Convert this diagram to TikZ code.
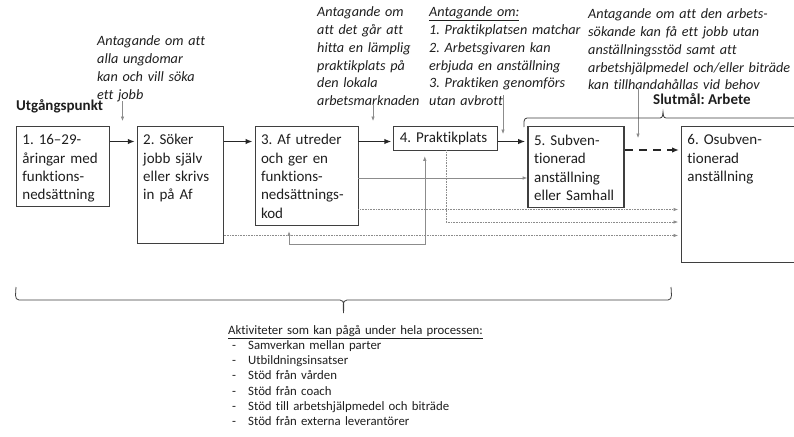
\documentclass[tikz,border=0pt]{standalone}
\usepackage{fontspec}
\setmainfont{Carlito}[Ligatures=NoCommon]
\usetikzlibrary{arrows.meta,positioning}
\definecolor{boxline}{HTML}{3F3F3F}
\definecolor{flowcol}{HTML}{262626}
\definecolor{linegray}{HTML}{8C8C8C}
\definecolor{textcol}{HTML}{1E1E1E}
\frenchspacing
\begin{document}
\begin{tikzpicture}[x=1pt, y=-1pt, >={Latex[length=4.5pt,width=3.5pt]},
    box/.style={draw=boxline, line width=0.8pt, anchor=north west, align=left, inner xsep=6pt, inner ysep=0pt, text height=19pt, text=textcol, font=\fontsize{15}{18.3}\selectfont},
    flow/.style={draw=flowcol, line width=1.6pt, -{Latex[length=7pt,width=5.5pt]}, shorten >=2pt},
    link/.style={draw=linegray, line width=0.6pt, ->},
    dots/.style={link, densely dotted},
    note/.style={anchor=north west, align=left, inner sep=0pt, text height=12pt, text width=250pt, text=textcol, font=\fontsize{14.2}{17.8}\selectfont\itshape},
    title/.style={anchor=base west, inner sep=0pt, text=textcol, font=\fontsize{15}{18}\selectfont\bfseries},
    braceline/.style={draw=boxline, line width=0.8pt}]
    \useasboundingbox (0,0) rectangle (794,436);
    \clip (0,0) rectangle (794,436);

    \node[box, text width=81pt, text depth=61.5pt] (b1) at (16,125.5) {1. 16–29-\\åringar med\\funktions-\\nedsättning};
    \node[box, text width=74pt, text depth=98pt, right=27pt of b1.north east, anchor=north west] (b2) {2. Söker\\jobb själv\\eller skrivs\\in på Af};
    \node[box, text width=91pt, text depth=80pt, right=31pt of b2.north east, anchor=north west] (b3) {3. Af utreder\\och ger en\\funktions-\\nedsättnings-\\kod};
    \node[box, text width=92pt, text height=17pt, text depth=7pt, right=35pt of b3.north east, anchor=north west] (b4) {4. Praktikplats};
    \node[box, line width=1.8pt, text width=84pt, text depth=62pt, right=29pt of b4.north east, anchor=north west] (b5) {5. Subven-\\tionerad\\anställning\\eller Samhall};
    \node[box, text width=122pt, text depth=117pt, right=56pt of b5.north east, anchor=north west] (b6) {6. Osubven-\\tionerad\\anställning};

    \node[title] (start) at (16,110) {Utgångspunkt};
    \node[title] (goal) at (653,104) {Slutmål: Arbete};

    \node[note] (n1) at (97,33.5) {Antagande om att\\alla ungdomar\\kan och vill söka\\ett jobb};
    \node[note] (n2) at (317,4.5) {Antagande om\\att det går att\\hitta en lämplig\\praktikplats på\\den lokala\\arbetsmarknaden};
    \node[note] (n3) at (429,4.5) {\underline{Antagande om:}\\1. Praktikplatsen matchar\\2. Arbetsgivaren kan\\erbjuda en anställning\\3. Praktiken genomförs\\utan avbrott};
    \node[note] (n4) at (588,6.5) {Antagande om att den arbets-\\sökande kan få ett jobb utan\\anställningsstöd samt att\\arbetshjälpmedel och/eller biträde\\kan tillhandahållas vid behov};

    \node[anchor=north west, align=left, inner sep=0pt, text height=10pt, text width=300pt, text=textcol, font=\fontsize{12.8}{15.2}\selectfont] (acts) at (228,324) {\underline{Aktiviteter som kan pågå under hela processen:}\\
        \hspace*{4pt}\makebox[16pt][l]{-}Samverkan mellan parter\\
        \hspace*{4pt}\makebox[16pt][l]{-}Utbildningsinsatser\\
        \hspace*{4pt}\makebox[16pt][l]{-}Stöd från vården\\
        \hspace*{4pt}\makebox[16pt][l]{-}Stöd från coach\\
        \hspace*{4pt}\makebox[16pt][l]{-}Stöd till arbetshjälpmedel och biträde\\
        \hspace*{4pt}\makebox[16pt][l]{-}Stöd från externa leverantörer};

    \coordinate (row1) at (0,141.5);
    \coordinate (row2) at (0,150);
    \coordinate (row3) at (0,178);
    \coordinate (row4) at (0,209.5);
    \coordinate (row5) at (0,222);
    \coordinate (row6) at (0,235.5);
    \coordinate (row7) at (0,244);

    \draw[flow] (b1.east |- row1) -- (b2.west |- row1);
    \draw[flow] (b2.east |- row1) -- (b3.west |- row1);
    \draw[flow] (b3.east |- row1) -- (b4.west |- row1);
    \draw[flow] (b4.east |- row1) -- (b5.west |- row1);
    \draw[flow, dash pattern=on 8pt off 6pt] (b5.east |- row2) -- (b6.west |- row2);

    \draw[link] (b3.east |- row3) -- (b5.west |- row3);
    \coordinate (up3) at ([xshift=-17.5pt]b3.south);
    \coordinate (up4) at ([xshift=-21pt]b4.south);
    \draw[link, <->, shorten <=6pt, shorten >=6pt] (up3) -- (up3 |- row7) -| (up4);
    \draw[dots] (b3.east |- row4) -- ([xshift=-3pt]b6.west |- row4);
    \draw[dots] (b4.south) |- ([xshift=-3pt]b6.west |- row5);
    \draw[dots] (b2.east |- row6) -- ([xshift=-3pt]b6.west |- row6);

    \coordinate (p1) at (122.5,101);
    \coordinate (p2) at (373,104);
    \coordinate (p3) at (503,95);
    \coordinate (p4) at (638,88);
    \draw[link] (p1) -- ++(0,20);
    \draw[link] (p2) -- ++(0,17);
    \draw[link] (p3) -- ++(0,39);
    \draw[link] (p4) -- ++(0,50);

    \draw[braceline] (524,127) to[out=90,in=180] (527,118) -- (660,118) to[out=0,in=-90] (663,112)
        to[out=-90,in=180] (666,118) -- (802,118);
    \draw[braceline] (16,287) to[out=-90,in=180] (19,300) -- (340,300) to[out=0,in=90] (343.5,313)
        to[out=90,in=180] (347,300) -- (668,300) to[out=0,in=-90] (671,287);
\end{tikzpicture}
\end{document}
